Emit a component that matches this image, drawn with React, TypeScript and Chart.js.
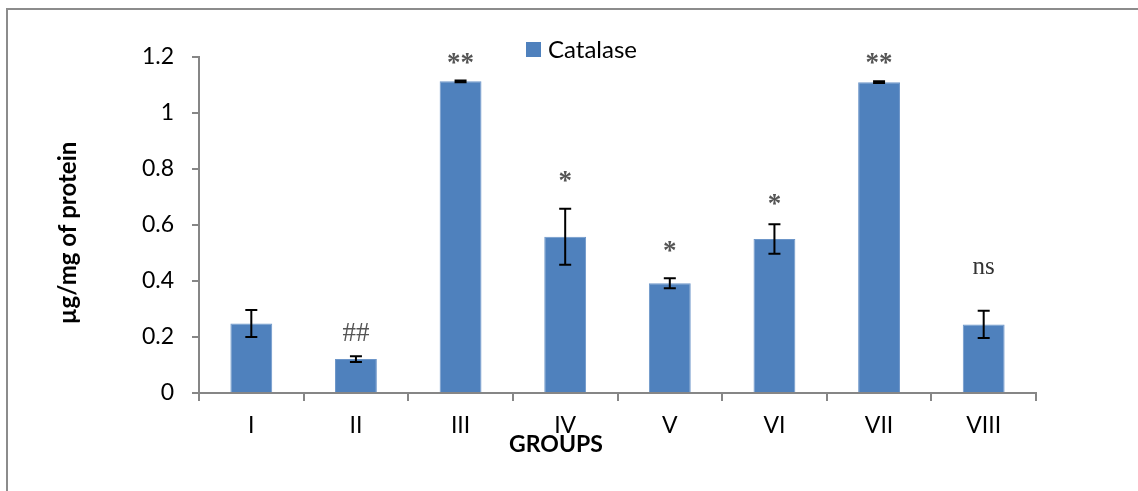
import React, { useEffect, useRef } from "react";
import { Chart, registerables } from "chart.js";

Chart.register(...registerables);

const groups = ["I", "II", "III", "IV", "V", "VI", "VII", "VIII"];
const catalase = [0.248, 0.121, 1.113, 0.558, 0.392, 0.55, 1.11, 0.245];
const errors = [0.048, 0.01, 0.003, 0.1, 0.018, 0.053, 0.003, 0.049];
const marks = ["", "##", "**", "*", "*", "*", "**", "ns"];
const markLevels = [0, 0.218, 1.193, 0.775, 0.525, 0.69, 1.196, 0.446];
const yTicks = [0, 0.2, 0.4, 0.6, 0.8, 1, 1.2];
const seriesName = "Catalase";
const yTitle = "µg/mg of protein";
const xTitle = "GROUPS";

const BAR = "#4F81BD";
const AXIS = "#868686";
const FONT = "Lato";

const decorPlugin = {
  id: "decor",
  beforeDraw(chart: any) {
    const ctx = chart.ctx;
    ctx.save();
    ctx.fillStyle = "#ffffff";
    ctx.fillRect(0, 0, chart.width, chart.height);
    ctx.strokeStyle = "#8c8c8c";
    ctx.lineWidth = 2;
    ctx.beginPath();
    ctx.moveTo(7, chart.height);
    ctx.lineTo(7, 9);
    ctx.lineTo(chart.width, 9);
    ctx.stroke();
    ctx.restore();
  },
  afterDatasetsDraw(chart: any) {
    const ctx = chart.ctx;
    const y = chart.scales.y;
    const meta = chart.getDatasetMeta(0);
    ctx.save();
    ctx.strokeStyle = "#000000";
    ctx.lineWidth = 2;
    meta.data.forEach((bar: any, i: number) => {
      const v = catalase[i];
      const e = errors[i];
      const yt = y.getPixelForValue(v + e);
      const yb = y.getPixelForValue(v - e);
      const x = bar.x;
      ctx.beginPath();
      ctx.moveTo(x, yt);
      ctx.lineTo(x, yb);
      ctx.moveTo(x - 6, yt);
      ctx.lineTo(x + 6, yt);
      ctx.moveTo(x - 6, yb);
      ctx.lineTo(x + 6, yb);
      ctx.stroke();
    });
    ctx.textAlign = "center";
    ctx.textBaseline = "alphabetic";
    meta.data.forEach((bar: any, i: number) => {
      const m = marks[i];
      if (!m) return;
      if (m === "ns") {
        ctx.font = `25px "Liberation Serif"`;
        ctx.fillStyle = "#333333";
      } else if (m === "##") {
        ctx.font = `27px "Liberation Serif"`;
        ctx.fillStyle = "#555555";
      } else {
        ctx.font = `bold 27px "Liberation Serif"`;
        ctx.fillStyle = "#555555";
      }
      const tm = ctx.measureText(m);
      const cy = y.getPixelForValue(markLevels[i]);
      const yy = cy + (tm.actualBoundingBoxAscent - tm.actualBoundingBoxDescent) / 2;
      ctx.fillText(m, bar.x, yy);
    });
    ctx.restore();
  },
  afterDraw(chart: any) {
    const ctx = chart.ctx;
    ctx.save();
    ctx.fillStyle = BAR;
    ctx.fillRect(526, 42, 15, 15);
    ctx.fillStyle = "#000000";
    ctx.font = `24px ${FONT}`;
    ctx.textAlign = "left";
    ctx.textBaseline = "middle";
    ctx.fillText(seriesName, 548, 50);
    ctx.font = `bold 23px ${FONT}`;
    ctx.textAlign = "center";
    ctx.fillText(xTitle, 556, 445);
    ctx.translate(68, 233);
    ctx.rotate(-Math.PI / 2);
    ctx.font = `bold 24px ${FONT}`;
    ctx.fillText(yTitle, 0, 0);
    ctx.restore();
  },
};

export default function App() {
  const ref = useRef<HTMLCanvasElement | null>(null);
  useEffect(() => {
    if (!ref.current) return;
    const chart = new Chart(ref.current, {
      type: "bar",
      data: {
        labels: groups,
        datasets: [
          {
            label: seriesName,
            data: catalase,
            backgroundColor: BAR,
            borderColor: "#6d96c9",
            borderWidth: 1,
            barPercentage: 0.4,
            categoryPercentage: 1,
          },
        ],
      },
      options: {
        responsive: false,
        animation: false,
        layout: { padding: { top: 57, right: 102, left: 0, bottom: 0 } },
        plugins: {
          legend: { display: false },
          tooltip: { enabled: false },
        },
        scales: {
          x: {
            grid: {
              drawOnChartArea: false,
              color: AXIS,
              lineWidth: 2,
              tickLength: 8,
              offset: true,
            },
            border: { color: AXIS, width: 2 },
            ticks: {
              color: "#000000",
              font: { family: FONT, size: 23 },
              padding: 11,
              maxRotation: 0,
            },
            afterFit(scale: any) {
              scale.height = 98;
            },
          },
          y: {
            min: 0,
            max: 1.2,
            grid: {
              drawOnChartArea: false,
              color: AXIS,
              lineWidth: 2,
              tickLength: 7,
            },
            border: { color: AXIS, width: 2 },
            ticks: {
              color: "#000000",
              font: { family: FONT, size: 23 },
              padding: 18,
              callback: (v: any) => String(v),
            },
            afterBuildTicks(scale: any) {
              scale.ticks = yTicks.map((v) => ({ value: v }));
            },
            afterFit(scale: any) {
              scale.width = 199;
            },
          },
        },
      },
      plugins: [decorPlugin],
    });
    return () => chart.destroy();
  }, []);
  return (
    <div style={{ position: "absolute", left: 0, top: 0, width: 1138, height: 491 }}>
      <canvas ref={ref} width={1138} height={491} style={{ display: "block" }} />
    </div>
  );
}
